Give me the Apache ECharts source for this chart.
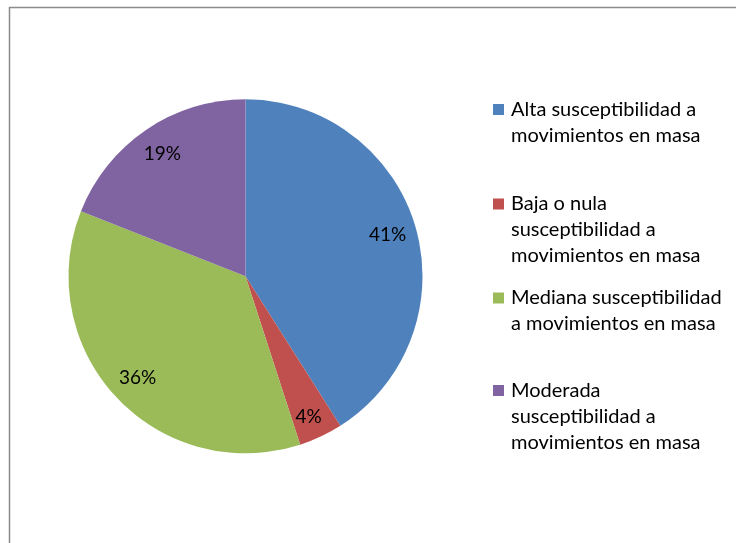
<!DOCTYPE html>
<html>
<head>
<meta charset="utf-8">
<script src="https://cdn.jsdelivr.net/npm/echarts@6/dist/echarts.min.js"></script>
<style>
  html, body { margin: 0; padding: 0; background: #fff; }
  #chart { width: 736px; height: 543px; }
</style>
</head>
<body>
<div id="chart"></div>
<script>
// Susceptibility categories and their share of the area (%)
const categories = [
  'Alta susceptibilidad a movimientos en masa',
  'Baja o nula susceptibilidad a movimientos en masa',
  'Mediana susceptibilidad a movimientos en masa',
  'Moderada susceptibilidad a movimientos en masa'
];
const shares = [41, 4, 36, 19];
const sliceColors = ['#4F81BD', '#C0504D', '#9BBB59', '#8064A2'];

// Wrapped legend text, one line per entry
const legendLines = [
  ['Alta susceptibilidad a', 'movimientos en masa'],
  ['Baja o nula', 'susceptibilidad a', 'movimientos en masa'],
  ['Mediana susceptibilidad', 'a movimientos en masa'],
  ['Moderada', 'susceptibilidad a', 'movimientos en masa']
];
// vertical centre of each legend entry's first line
const legendFirstLineY = [109.5, 204, 298, 390.5];

const FONT = 'Lato, "Liberation Sans", sans-serif';
const LEGEND_SIZE = 20;
const LINE_H = 26;
const CENTER = [245.5, 276.3];
const RADIUS = 177;

const pieData = categories.map((name, i) => ({
  name: name,
  value: shares[i],
  itemStyle: { color: sliceColors[i] }
}));

// one legend block per entry so each can sit at its own height;
// blank lines above keep the marker level with the first text line
const legends = categories.map((name, i) => {
  const lines = legendLines[i];
  const pad = new Array(lines.length - 1).fill('');
  const blockLines = pad.length + lines.length;
  return {
    data: [name],
    orient: 'vertical',
    left: 493,
    top: legendFirstLineY[i] - blockLines * LINE_H / 2,
    padding: 0,
    itemWidth: 11,
    itemHeight: 11,
    icon: 'rect',
    selectedMode: false,
    formatter: () => pad.concat(lines).join('\n'),
    textStyle: {
      fontFamily: FONT,
      fontSize: LEGEND_SIZE,
      lineHeight: LINE_H,
      color: '#000',
      padding: [0, 0, 0, 2]
    }
  };
});

// label ring data; narrow slices push their label a little further out
const labelData = categories.map((name, i) => {
  const item = { name: name, value: shares[i] };
  if (shares[i] < 10) item.label = { offset: [0, 7] };
  return item;
});

const chart = echarts.init(document.getElementById('chart'), null, { renderer: 'canvas' });
chart.setOption({
  animation: false,
  backgroundColor: '#fff',
  graphic: [{
    type: 'rect',
    shape: { x: 9.5, y: 7.5, width: 900, height: 700 },
    style: { fill: 'none', stroke: '#8c8c8c', lineWidth: 1.5 },
    silent: true
  }],
  legend: legends,
  series: [
    {
      type: 'pie',
      center: CENTER,
      radius: RADIUS,
      startAngle: 90,
      clockwise: true,
      label: { show: false },
      labelLine: { show: false },
      emphasis: { disabled: true },
      data: pieData
    },
    {
      // transparent ring used only to place the percentage labels
      type: 'pie',
      center: CENTER,
      radius: [113, RADIUS],
      startAngle: 90,
      clockwise: true,
      silent: true,
      itemStyle: { color: 'rgba(0,0,0,0)' },
      label: {
        show: true,
        position: 'inside',
        formatter: '{c}%',
        fontFamily: FONT,
        fontSize: 19,
        color: '#000'
      },
      labelLine: { show: false },
      emphasis: { disabled: true },
      data: labelData
    }
  ]
});
</script>
</body>
</html>
